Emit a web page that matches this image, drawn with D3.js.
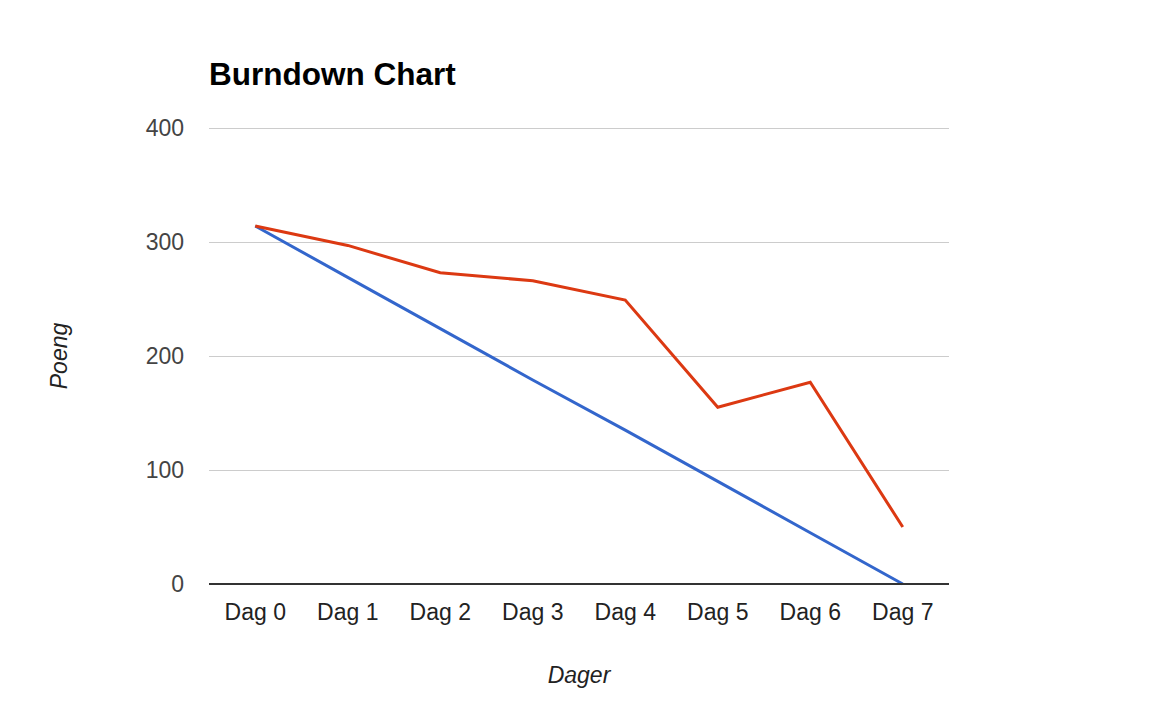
<!DOCTYPE html>
<html>
<head>
<meta charset="utf-8">
<script src="https://cdn.jsdelivr.net/npm/d3@7"></script>
<style>
  body { margin: 0; background: #fff; }
</style>
</head>
<body>
<div id="chart"></div>
<script>
const days = ["Dag 0", "Dag 1", "Dag 2", "Dag 3", "Dag 4", "Dag 5", "Dag 6", "Dag 7"];
const ideal = [314, 269, 224, 179, 135, 90, 45, 0];
const actual = [314, 297, 273, 266, 249, 155, 177, 50];
const yTicks = [0, 100, 200, 300, 400];

const width = 1154;
const height = 706;
const marginTop = 128;
const marginRight = 205;
const marginBottom = 122; // x labels + axis title
const marginLeft = 209;
const font = "Liberation Sans, Arial, sans-serif";

const svg = d3
  .select("#chart")
  .append("svg")
  .attr("width", width)
  .attr("height", height)
  .style("font-family", font);

const x = d3
  .scaleBand()
  .domain(days)
  .range([marginLeft, width - marginRight]);

const y = d3
  .scaleLinear()
  .domain([0, 400])
  .range([height - marginBottom, marginTop]);

const cx = (d) => x(d) + x.bandwidth() / 2;

// Gridlines
svg
  .append("g")
  .attr("stroke", "#cccccc")
  .attr("stroke-width", 1)
  .selectAll("line")
  .data(yTicks.filter((d) => d !== 0))
  .join("line")
  .attr("x1", marginLeft)
  .attr("x2", width - marginRight)
  .attr("y1", (d) => Math.round(y(d)) + 0.5)
  .attr("y2", (d) => Math.round(y(d)) + 0.5);

// Y axis labels
const yAxis = svg
  .append("g")
  .attr("transform", `translate(${marginLeft},0)`)
  .call(d3.axisLeft(y).tickValues(yTicks).tickSize(0).tickPadding(25));
yAxis.select(".domain").remove();
yAxis
  .selectAll("text")
  .attr("font-family", font)
  .attr("font-size", 23)
  .attr("fill", "#444444");

// X axis labels
const xAxis = svg
  .append("g")
  .attr("transform", `translate(0,${height - marginBottom})`)
  .call(d3.axisBottom(x).tickSize(0).tickPadding(20));
xAxis.select(".domain").remove();
xAxis
  .selectAll("text")
  .attr("font-family", font)
  .attr("font-size", 23)
  .attr("fill", "#222222");

// Lines
const line = d3
  .line()
  .x((d, i) => cx(days[i]))
  .y((d) => y(d));

svg
  .append("path")
  .datum(ideal)
  .attr("fill", "none")
  .attr("stroke", "#3366cc")
  .attr("stroke-width", 3)
  .attr("d", line);

svg
  .append("path")
  .datum(actual)
  .attr("fill", "none")
  .attr("stroke", "#dc3912")
  .attr("stroke-width", 3)
  .attr("d", line);

// Baseline at zero
svg
  .append("line")
  .attr("x1", marginLeft)
  .attr("x2", width - marginRight)
  .attr("y1", y(0))
  .attr("y2", y(0))
  .attr("stroke", "#333333")
  .attr("stroke-width", 2);

// Title
svg
  .append("text")
  .attr("x", marginLeft)
  .attr("y", 85)
  .attr("font-size", 31.5)
  .attr("font-weight", "bold")
  .attr("fill", "#000")
  .text("Burndown Chart");

// Axis titles
svg
  .append("text")
  .attr("x", (marginLeft + width - marginRight) / 2)
  .attr("y", 683)
  .attr("text-anchor", "middle")
  .attr("font-size", 23)
  .attr("font-style", "italic")
  .attr("fill", "#222222")
  .text("Dager");

svg
  .append("text")
  .attr("transform", `translate(67,${(marginTop + height - marginBottom) / 2}) rotate(-90)`)
  .attr("text-anchor", "middle")
  .attr("font-size", 23)
  .attr("font-style", "italic")
  .attr("fill", "#222222")
  .text("Poeng");
</script>
</body>
</html>
